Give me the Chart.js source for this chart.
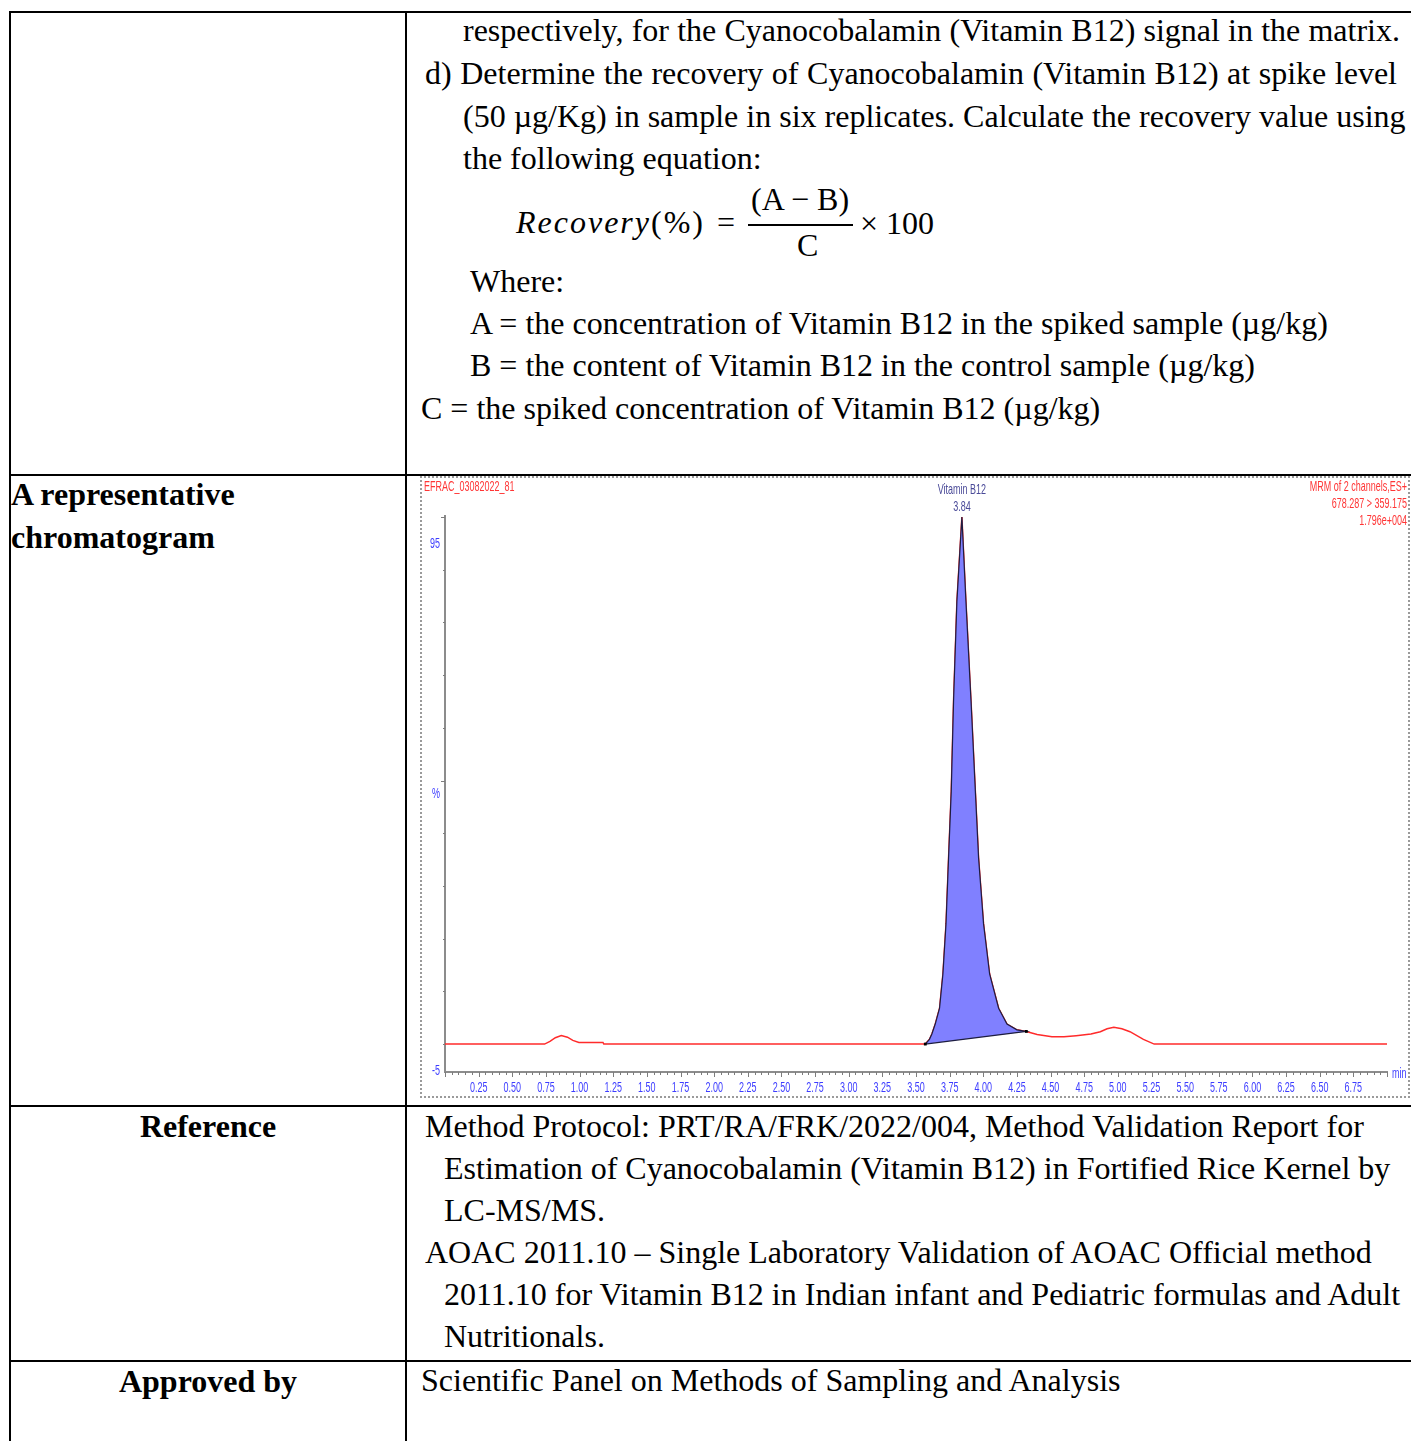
<!DOCTYPE html>
<html>
<head>
<meta charset="utf-8">
<title>Cyanocobalamin (Vitamin B12) - representative chromatogram</title>
<script src="https://cdn.jsdelivr.net/npm/chart.js@4.4.1/dist/chart.umd.min.js"></script>
<style>
  html, body { margin: 0; padding: 0; background: #fff; }
  body {
    position: relative; width: 1411px; height: 1441px; overflow: hidden;
    font-family: 'Liberation Serif', 'Times New Roman', serif; font-size: 32px; color: #000;
  }
  .ln { position: absolute; white-space: nowrap; line-height: 32px; }
  .just { text-align: justify; text-align-last: justify; }
  .b { font-weight: bold; }
  .ctr { text-align: center; }
  .rule { position: absolute; background: #000; }
  .math { font-style: italic; letter-spacing: 2px; }
  #chromBox { position: absolute; left: 420px; top: 476px; width: 990px; height: 622px;
              box-sizing: border-box; border: 2px dotted #9a9a9a; }
  #chrom { position: absolute; left: 420px; top: 477px; }
</style>
</head>
<body>

<!-- table rules -->
<div class="rule" style="left:9px;top:11px;width:2px;height:1430px"></div>
<div class="rule" style="left:9px;top:11px;width:1402px;height:2px"></div>
<div class="rule" style="left:405px;top:11px;width:2px;height:1430px"></div>
<div class="rule" style="left:9px;top:474px;width:1402px;height:2px"></div>
<div class="rule" style="left:9px;top:1105px;width:1402px;height:2px"></div>
<div class="rule" style="left:9px;top:1360px;width:1402px;height:2px"></div>

<!-- top cell -->
<div class="ln just" style="left:463px;top:14px;width:937px">respectively, for the Cyanocobalamin (Vitamin B12) signal in the matrix.</div>
<div class="ln just" style="left:425px;top:57px;width:972px">d) Determine the recovery of Cyanocobalamin (Vitamin B12) at spike level</div>
<div class="ln just" style="left:463px;top:100px;width:940px">(50 µg/Kg) in sample in six replicates. Calculate the recovery value using</div>
<div class="ln" style="left:463px;top:142px">the following equation:</div>

<div class="ln math" style="left:516px;top:206px">Recovery</div>
<div class="ln" style="left:651px;top:206px;letter-spacing:2px">(%)</div>
<div class="ln" style="left:717px;top:206px">=</div>
<div class="ln" style="left:751px;top:183px">(A − B)</div>
<div class="rule" style="left:748px;top:224px;width:105px;height:2px"></div>
<div class="ln" style="left:797px;top:229px">C</div>
<div class="ln" style="left:860px;top:207px">× 100</div>

<div class="ln" style="left:470px;top:265px">Where:</div>
<div class="ln" style="left:470px;top:307px">A = the concentration of Vitamin B12 in the spiked sample (µg/kg)</div>
<div class="ln" style="left:470px;top:349px">B = the content of Vitamin B12 in the control sample (µg/kg)</div>
<div class="ln" style="left:421px;top:392px">C = the spiked concentration of Vitamin B12 (µg/kg)</div>

<!-- chromatogram row -->
<div class="ln b" style="left:11px;top:478px">A representative</div>
<div class="ln b" style="left:11px;top:521px">chromatogram</div>
<div id="chromBox"></div>
<canvas id="chrom" width="990" height="620"></canvas>

<!-- reference row -->
<div class="ln b ctr" style="left:11px;top:1110px;width:394px">Reference</div>
<div class="ln" style="left:425px;top:1110px">Method Protocol: PRT/RA/FRK/2022/004, Method Validation Report for</div>
<div class="ln" style="left:444px;top:1152px">Estimation of Cyanocobalamin (Vitamin B12) in Fortified Rice Kernel by</div>
<div class="ln" style="left:444px;top:1194px">LC-MS/MS.</div>
<div class="ln" style="left:425px;top:1236px">AOAC 2011.10 – Single Laboratory Validation of AOAC Official method</div>
<div class="ln" style="left:444px;top:1278px">2011.10 for Vitamin B12 in Indian infant and Pediatric formulas and Adult</div>
<div class="ln" style="left:444px;top:1320px">Nutritionals.</div>

<!-- approved row -->
<div class="ln b ctr" style="left:11px;top:1365px;width:394px">Approved by</div>
<div class="ln" style="left:421px;top:1364px">Scientific Panel on Methods of Sampling and Analysis</div>

<script>
// MRM trace 678.287 > 359.175, retention time in min, intensity in %
var leadTime   = [0.00, 0.74, 0.78, 0.82, 0.864, 0.91, 0.95, 0.995, 1.174, 1.18];
var leadSignal = [0,    0,    0.5,  1.2,  1.6,   1.3,  0.7,  0.3,   0.3,   0];

// integrated Vitamin B12 peak (start -> apex -> end)
var peakTime   = [3.569, 3.60, 3.618, 3.643, 3.675, 3.700, 3.723, 3.742, 3.762, 3.779, 3.804, 3.841,
                  3.871, 3.909, 3.941, 3.965, 4.002, 4.047, 4.114, 4.176, 4.25, 4.32];
var peakSignal = [0,     0.9,  1.9,   3.8,   6.8,   13.3,  22.8,  35.3,  48,    65,    84,    100,
                  84,    65,    48,    35.3,  22.8,  13.3,  6.8,   3.8,   2.7,  2.4];

var tailTime   = [4.40, 4.51, 4.60, 4.69, 4.80, 4.87, 4.92, 4.97, 5.03, 5.09, 5.19, 5.27, 7.00];
var tailSignal = [1.8,  1.4,  1.4,  1.6,  1.9,  2.35, 2.9,  3.2,  2.9,  2.35, 0.9,  0,    0];

var xTickLabels = ['0.25', '0.50', '0.75', '1.00', '1.25', '1.50', '1.75', '2.00', '2.25', '2.50', '2.75',
                   '3.00', '3.25', '3.50', '3.75', '4.00', '4.25', '4.50', '4.75', '5.00', '5.25', '5.50',
                   '5.75', '6.00', '6.25', '6.50', '6.75'];
var yTickLabels = ['95', '-5'];

var peakName = 'Vitamin B12';
var sampleName = 'EFRAC_03082022_81';
var headerRight = ['MRM of 2 channels,ES+', '678.287 > 359.175', '1.796e+004'];

function toPoints(t, s) {
    return t.map(function (v, i) { return { x: v, y: s[i] }; });
}

var peakPts = toPoints(peakTime, peakSignal);
var tracePts = toPoints(leadTime, leadSignal).concat(peakPts, toPoints(tailTime, tailSignal));
// closed outline: peak curve then back along the integration baseline
var shapePts = peakPts.concat([peakPts[0]]);
var markerPts = [peakPts[0], peakPts[peakPts.length - 1]];

var apexIdx = peakSignal.indexOf(Math.max.apply(null, peakSignal));

var LBL = "15px 'Liberation Sans', Arial, sans-serif";
var SQUEEZE = 0.6;
function narrowText(ctx, txt, x, y, align, color) {
    ctx.save();
    ctx.translate(x, y);
    ctx.scale(SQUEEZE, 1);
    ctx.font = LBL;
    ctx.fillStyle = color;
    ctx.textAlign = align;
    ctx.textBaseline = 'middle';
    ctx.fillText(txt, 0, 0);
    ctx.restore();
}

var massLynxLook = {
    id: 'massLynxLook',
    afterDraw: function (chart) {
        var ctx = chart.ctx, a = chart.chartArea;
        var xs = chart.scales.x, ys = chart.scales.y;
        ctx.save();
        ctx.strokeStyle = '#7d7d7d';
        ctx.lineWidth = 1;

        // x tick marks every 0.05 min, longer on the quarter minutes
        var n = Math.round((xs.max - xs.min) / 0.05);
        for (var i = 0; i <= n; i++) {
            var px = Math.round(xs.getPixelForValue(xs.min + i * 0.05)) + 0.5;
            var len = (i % 5 === 0) ? 5 : 3;
            ctx.beginPath();
            ctx.moveTo(px, a.bottom);
            ctx.lineTo(px, a.bottom + len);
            ctx.stroke();
        }
        // y tick marks every 10 %
        for (var v = 0; v <= 100; v += 10) {
            var py = Math.round(ys.getPixelForValue(v)) + 0.5;
            var l = (v === 50 || v === 100) ? 4 : 2;
            ctx.beginPath();
            ctx.moveTo(a.left, py);
            ctx.lineTo(a.left - l, py);
            ctx.stroke();
        }
        ctx.restore();

        var blue = '#3d3dff';
        xTickLabels.forEach(function (t) {
            narrowText(ctx, t, xs.getPixelForValue(parseFloat(t)), a.bottom + 16, 'center', blue);
        });
        yTickLabels.forEach(function (t) {
            narrowText(ctx, t, a.left - 5, ys.getPixelForValue(parseFloat(t)), 'right', blue);
        });
        narrowText(ctx, '%', a.left - 9, (a.top + a.bottom) / 2, 'center', blue);
        narrowText(ctx, 'min', a.right + 5, a.bottom + 2, 'left', blue);

        var red = '#ff3535';
        narrowText(ctx, sampleName, 4, 10, 'left', red);
        headerRight.forEach(function (t, k) {
            narrowText(ctx, t, chart.width - 3, 10 + k * 17, 'right', red);
        });

        var ax = xs.getPixelForValue(peakTime[apexIdx]);
        var ay = ys.getPixelForValue(peakSignal[apexIdx]);
        narrowText(ctx, peakName, ax, ay - 27, 'center', '#4a4a98');
        narrowText(ctx, peakTime[apexIdx].toFixed(2), ax, ay - 10, 'center', '#4a4a98');
    }
};

new Chart(document.getElementById('chrom').getContext('2d'), {
    type: 'scatter',
    data: {
        datasets: [
            {
                label: 'peak area',
                data: shapePts,
                showLine: true,
                fill: 'shape',
                backgroundColor: '#8080ff',
                borderColor: '#1d1d40',
                borderWidth: 1.2,
                pointRadius: 0,
                order: 1
            },
            {
                label: '678.287 > 359.175',
                data: tracePts,
                showLine: true,
                fill: false,
                borderColor: '#ff2b2b',
                borderWidth: 1.5,
                pointRadius: 0,
                order: 2
            },
            {
                label: 'integration limits',
                data: markerPts,
                pointStyle: 'rect',
                pointRadius: 2,
                backgroundColor: '#000',
                borderColor: '#000',
                borderWidth: 0,
                order: 0
            }
        ]
    },
    options: {
        responsive: false,
        animation: false,
        events: [],
        layout: { padding: { top: 39, right: 23, left: 0, bottom: 0 } },
        plugins: {
            legend: { display: false },
            tooltip: { enabled: false }
        },
        scales: {
            x: {
                type: 'linear',
                min: 0,
                max: 7.0,
                ticks: { display: false },
                grid: { drawOnChartArea: false, drawTicks: false },
                border: { display: true, color: '#8c8c8c', width: 2 },
                afterFit: function (s) { s.height = 25; }
            },
            y: {
                type: 'linear',
                min: -5.3,
                max: 100.2,
                ticks: { display: false },
                grid: { drawOnChartArea: false, drawTicks: false },
                border: { display: true, color: '#8c8c8c', width: 2 },
                afterFit: function (s) { s.width = 25; }
            }
        }
    },
    plugins: [massLynxLook]
});
</script>
</body>
</html>
